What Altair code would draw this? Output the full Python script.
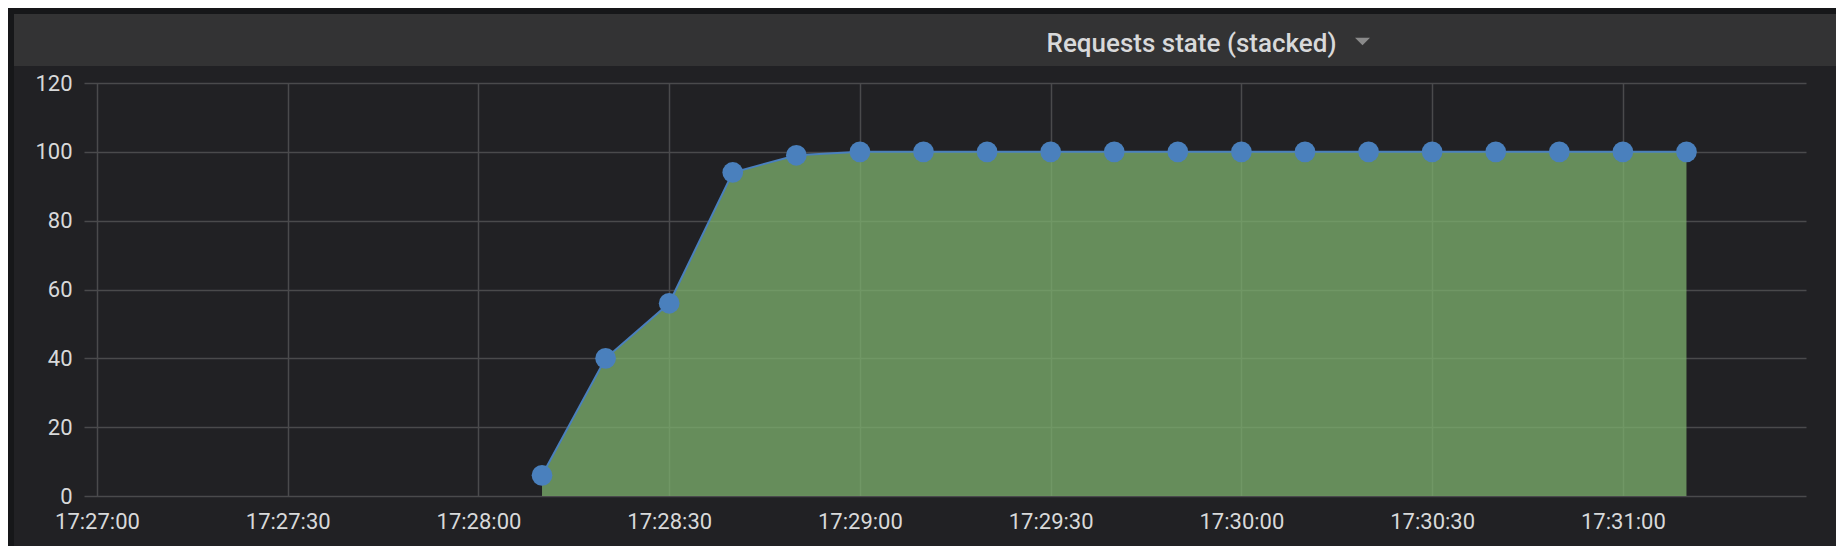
import altair as alt
import pandas as pd
from datetime import datetime

# ---- data ----
DAY = "2024-01-01"
times = ["17:28:10", "17:28:20", "17:28:30", "17:28:40", "17:28:50",
         "17:29:00", "17:29:10", "17:29:20", "17:29:30", "17:29:40", "17:29:50",
         "17:30:00", "17:30:10", "17:30:20", "17:30:30", "17:30:40", "17:30:50",
         "17:31:00", "17:31:10"]
requests = [6, 40, 56, 94, 99,
            100, 100, 100, 100, 100, 100,
            100, 100, 100, 100, 100, 100,
            100, 100]
x_tick_labels = ["17:27:00", "17:27:30", "17:28:00", "17:28:30", "17:29:00",
                 "17:29:30", "17:30:00", "17:30:30", "17:31:00"]
x_domain = ["17:26:57.960", "17:31:28.800"]
y_ticks = [0, 20, 40, 60, 80, 100, 120]
panel_title = "Requests state (stacked)"


def ms(t):
    return int(datetime.fromisoformat(f"{DAY}T{t}+00:00").timestamp() * 1000)


df = pd.DataFrame({"time": [ms(t) for t in times], "value": requests})

LABEL = "#d8d9da"
GREEN = "#7EB26D"
BLUE = "#4a80bd"

x_enc = alt.X(
    "time:T",
    scale=alt.Scale(type="utc", domain=[ms(t) for t in x_domain], nice=False),
    axis=alt.Axis(values=[ms(t) for t in x_tick_labels],
                  labelExpr="utcFormat(datum.value, '%H:%M:%S')",
                  grid=True, ticks=False, tickSize=0,
                  domain=False, labelPadding=32, labelBaseline="alphabetic",
                  labelOverlap=False, labelFlush=False, title=None),
)
y_enc = alt.Y(
    "value:Q",
    scale=alt.Scale(domain=[0, 120], nice=False, zero=True),
    axis=alt.Axis(values=y_ticks, grid=True, ticks=False, tickSize=0,
                  domain=False, labelPadding=12, labelFlush=False,
                  labelOverlap=False, title=None),
)

base = alt.Chart(df).encode(x=x_enc, y=y_enc)
area = base.mark_area(color=GREEN, opacity=0.75, interpolate="linear")
line = base.mark_line(color=BLUE, strokeWidth=2, interpolate="linear")
pts = base.mark_circle(color=BLUE, size=430, opacity=1)

one = alt.Data(values=[{}])


def band(color, x1, x2, y1, y2):
    return alt.Chart(one).mark_rect(color=color).encode(
        x=alt.value(x1), x2=alt.value(x2), y=alt.value(y1), y2=alt.value(y2))


top_strip = band("#161719", -76, 1760, -75, -69)
left_strip = band("#161719", -76, -70, -75, 470)
header = band("#333334", -70, 1760, -69, -17)

title = alt.Chart(one).mark_text(
    text=panel_title, font="Roboto", fontSize=26, fontWeight=500,
    color=LABEL, align="center", baseline="alphabetic",
).encode(x=alt.value(1107.5), y=alt.value(-31.3))

caret = alt.Chart(one).mark_point(
    shape="M-1,-0.5L1,-0.5L0,0.5Z", filled=True, size=225,
    color="#8a8a8a", opacity=1,
).encode(x=alt.value(1278.5), y=alt.value(-41.5))

chart = alt.layer(
    top_strip, left_strip, header, area, line, pts, title, caret
).properties(
    width=1722, height=413,
    padding={"left": 76, "top": 75, "right": 30, "bottom": 50},
    autosize=alt.AutoSizeParams(type="none"),
    background="#212124",
).configure_view(strokeWidth=0).configure_axis(
    labelFont="Roboto", labelFontSize=22, labelColor=LABEL,
    gridColor="#4a4a4c", gridWidth=1.5,
)

chart.save("out.html", embed_options={"renderer": "svg", "actions": False})
